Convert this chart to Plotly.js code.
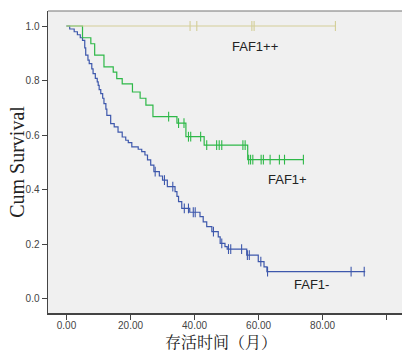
<!DOCTYPE html>
<html>
<head>
<meta charset="utf-8">
<script src="https://cdn.plot.ly/plotly-3.0.1.min.js"></script>
<style>html,body{margin:0;padding:0;background:#fff;}#chart{width:402px;height:354px;}</style>
</head>
<body>
<div id="chart"></div>
<script>
// FAF1- (blue)
const negTime = [0, 1.0, 2.4, 3.4, 4.3, 5.0, 5.7, 6.0, 6.7, 7.1, 7.9, 8.3, 9.0, 9.6, 9.9, 10.2, 10.7, 11.3, 11.7, 12.3, 12.6, 13.8, 14.9, 16.1, 17.4, 18.5, 19.3, 20.4, 22.4, 23.5, 24.5, 25.3, 26.3, 27.3, 29.0, 30.0, 31.5, 33.9, 34.5, 35.0, 36.0, 38.5, 41.7, 42.7, 43.8, 45.4, 47.4, 48.0, 49.5, 50.2, 56.3, 59.9, 61.7, 62.6, 93.3];
const negSurv = [1, 0.989, 0.979, 0.968, 0.957, 0.947, 0.920, 0.893, 0.875, 0.862, 0.843, 0.825, 0.808, 0.795, 0.782, 0.767, 0.752, 0.735, 0.715, 0.695, 0.672, 0.642, 0.630, 0.611, 0.593, 0.581, 0.572, 0.557, 0.548, 0.539, 0.527, 0.509, 0.490, 0.466, 0.450, 0.435, 0.411, 0.393, 0.375, 0.356, 0.331, 0.317, 0.301, 0.282, 0.264, 0.246, 0.227, 0.203, 0.191, 0.182, 0.160, 0.136, 0.117, 0.099, 0.099];
const negCensor = [27.7, 30.6, 33.2, 36.8, 38.1, 39.6, 40.2, 45.9, 48.5, 50.6, 51.3, 54.7, 56.5, 57.1, 60.7, 62.8, 88.9, 93.0];

// FAF1+ (green)
const posTime = [0, 5.0, 7.6, 8.8, 11.7, 14.6, 15.7, 17.4, 20.6, 23.0, 24.8, 27.0, 34.5, 37.3, 43.0, 56.6, 74.0];
const posSurv = [1, 0.957, 0.935, 0.893, 0.850, 0.831, 0.807, 0.788, 0.758, 0.735, 0.710, 0.668, 0.644, 0.594, 0.563, 0.510, 0.510];
const posCensor = [31.9, 35.0, 36.7, 38.1, 38.8, 41.9, 43.8, 46.9, 47.7, 48.5, 55.1, 55.8, 56.9, 57.5, 58.2, 60.8, 61.5, 63.6, 66.5, 68.1, 74.0];

// FAF1++ (beige)
const ppTime = [0, 84.0];
const ppSurv = [1, 1];
const ppCensor = [38.6, 40.7, 57.9, 58.6, 84.0];

const groupNames = ["FAF1-", "FAF1+", "FAF1++"];
const xTicks = [0, 20, 40, 60, 80, 100];
const yTicks = [0, 0.2, 0.4, 0.6, 0.8, 1.0];
const xTitle = '存活时间（月）';
const yTitle = 'Cum Survival';

function survAt(times, surv, t) {
  let s = surv[0];
  for (let i = 0; i < times.length; i++) { if (times[i] <= t) s = surv[i]; }
  return s;
}

const colors = ["#3e58ac", "#2eb848", "#d3ce97"];
const groups = [[negTime, negSurv, negCensor], [posTime, posSurv, posCensor], [ppTime, ppSurv, ppCensor]];
const traces = [];
groups.forEach((g, i) => {
  traces.push({x: g[0], y: g[1], type: 'scatter', mode: 'lines', line: {shape: 'hv', color: colors[i], width: 1.2}, hoverinfo: 'skip', name: groupNames[i]});
  traces.push({x: g[2], y: g[2].map(t => survAt(g[0], g[1], t)), type: 'scatter', mode: 'markers',
    marker: {symbol: 'line-ns-open', size: 7, line: {color: colors[i], width: 1.1}, color: colors[i]}, hoverinfo: 'skip', name: groupNames[i] + ' censored'});
});

const layout = {
  width: 402, height: 354,
  margin: {l: 48, r: 0, t: 11, b: 41},
  paper_bgcolor: '#ffffff', plot_bgcolor: '#f0f0f0',
  showlegend: false,
  font: {family: 'Liberation Sans, Arial, sans-serif', color: '#333'},
  xaxis: {range: [-5.78, 104.8], tickvals: xTicks, ticktext: xTicks.map(v => v.toFixed(2)),
    showgrid: false, zeroline: false, showline: true, linecolor: '#444', linewidth: 1.5,
    ticks: 'outside', ticklen: 5, tickcolor: '#444', tickfont: {size: 10, color: '#444'}, ticklabelstandoff: -3},
  yaxis: {range: [-0.0524, 1.055], tickvals: yTicks, ticktext: yTicks.map(v => v.toFixed(1)),
    showgrid: false, zeroline: false, showline: true, linecolor: '#444', linewidth: 1.5,
    ticks: 'outside', ticklen: 5, tickcolor: '#444', tickfont: {size: 10, color: '#444'}},
  shapes: [{type: 'line', xref: 'paper', yref: 'paper', x0: 0, x1: 1, y0: 1, y1: 1, line: {color: '#777', width: 1.2}}],
  annotations: [
    {x: 58.9, y: 0.924, text: 'FAF1++', showarrow: false, font: {size: 13, color: '#222'}},
    {x: 69.1, y: 0.438, text: 'FAF1+', showarrow: false, font: {size: 13, color: '#222'}},
    {x: 76.4, y: 0.053, text: 'FAF1-', showarrow: false, font: {size: 13, color: '#222'}},
    {xref: 'paper', yref: 'paper', x: 0.49, y: -0.093, yanchor: 'middle', text: xTitle, showarrow: false,
      font: {family: 'Noto Serif CJK SC, Noto Sans CJK SC, serif', size: 16, color: '#222'}},
    {xref: 'paper', yref: 'paper', x: -0.088, y: 0.5, xanchor: 'center', textangle: -90, text: yTitle, showarrow: false,
      font: {family: 'Liberation Serif, Times New Roman, serif', size: 20, color: '#222'}}
  ]
};
Plotly.newPlot('chart', traces, layout, {staticPlot: true, displayModeBar: false});
</script>
</body>
</html>
